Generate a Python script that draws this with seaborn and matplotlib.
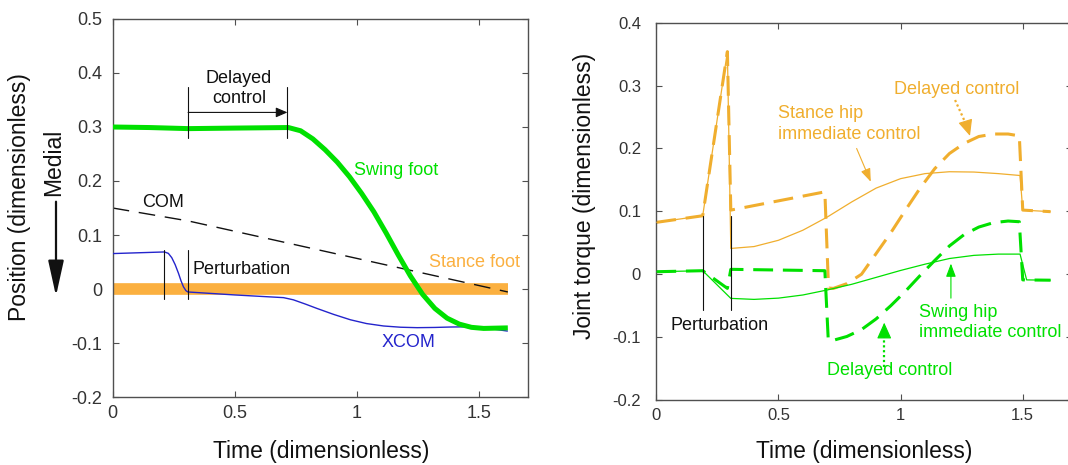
import matplotlib
matplotlib.use("Agg")
import matplotlib.pyplot as plt
import seaborn as sns
import pandas as pd

# ---------------- Left panel data ----------------
stance_foot_t = [0.0, 1.619]
stance_foot_y = [0.0, 0.0]

com_t = [0.0, 0.31, 1.619]
com_y = [0.150, 0.126, -0.0055]

xcom_t = [0.0, 0.212, 0.228, 0.242, 0.256, 0.27, 0.28, 0.29, 0.30, 0.308, 0.50, 0.70,
          0.74, 0.79, 0.837, 0.905, 0.974, 1.04, 1.11, 1.18, 1.247, 1.32, 1.384,
          1.453, 1.54, 1.619]
xcom_y = [0.0656, 0.0686, 0.066, 0.058, 0.045, 0.0285, 0.015, 0.004, -0.003,
          -0.0055, -0.011, -0.016, -0.020, -0.028, -0.036, -0.047, -0.057, -0.064,
          -0.0685, -0.0708, -0.0716, -0.0712, -0.0704, -0.070, -0.073, -0.078]

swing_foot_t = [0.0, 0.15, 0.31, 0.50, 0.72, 0.77, 0.82, 0.87, 0.92, 0.97, 1.02,
                1.07, 1.12, 1.17, 1.22, 1.27, 1.32, 1.37, 1.42, 1.47, 1.52, 1.619]
swing_foot_y = [0.300, 0.299, 0.297, 0.298, 0.299, 0.293, 0.278, 0.258, 0.235,
                0.208, 0.177, 0.143, 0.104, 0.063, 0.024, -0.010, -0.036, -0.054,
                -0.065, -0.071, -0.073, -0.072]

# ---------------- Right panel data ----------------
stance_delayed_t = [0.0, 0.19, 0.291, 0.305, 0.69, 0.705, 0.725, 0.78, 0.84, 0.90,
                    0.96, 1.02, 1.08, 1.14, 1.20, 1.26, 1.32, 1.38, 1.44, 1.486,
                    1.50, 1.614]
stance_delayed_y = [0.0825, 0.093, 0.354, 0.102, 0.131, -0.022, -0.0225, -0.015,
                    0.000, 0.033, 0.066, 0.102, 0.137, 0.168, 0.192, 0.208, 0.219,
                    0.223, 0.223, 0.220, 0.102, 0.0995]

stance_immediate_t = [0.0, 0.19, 0.291, 0.305, 0.40, 0.50, 0.60, 0.70, 0.80, 0.90,
                      1.00, 1.10, 1.20, 1.30, 1.40, 1.489, 1.50, 1.614]
stance_immediate_y = [0.0825, 0.093, 0.354, 0.041, 0.044, 0.054, 0.070, 0.091,
                      0.115, 0.137, 0.152, 0.160, 0.163, 0.1625, 0.160, 0.157,
                      0.102, 0.0995]

swing_immediate_t = [0.0, 0.19, 0.305, 0.40, 0.50, 0.60, 0.70, 0.80, 0.90, 1.00,
                     1.10, 1.20, 1.30, 1.40, 1.489, 1.516, 1.614]
swing_immediate_y = [0.004, 0.0056, -0.0384, -0.040, -0.038, -0.033, -0.025,
                     -0.016, -0.005, 0.006, 0.016, 0.025, 0.030, 0.032, 0.032,
                     -0.009, -0.0095]

swing_delayed_t = [0.0, 0.19, 0.291, 0.305, 0.69, 0.704, 0.725, 0.78, 0.84, 0.90,
                   0.96, 1.02, 1.08, 1.14, 1.20, 1.26, 1.32, 1.38, 1.44, 1.486,
                   1.50, 1.614]
swing_delayed_y = [0.004, 0.0056, -0.0225, 0.0078, 0.0056, -0.105, -0.105, -0.099,
                   -0.088, -0.071, -0.050, -0.027, -0.002, 0.022, 0.045, 0.063,
                   0.075, 0.082, 0.0846, 0.0835, -0.009, -0.0095]

x_ticks = [0, 0.5, 1, 1.5]
x_ticklabels = ["0", "0.5", "1", "1.5"]
left_y_ticks = [-0.2, -0.1, 0, 0.1, 0.2, 0.3, 0.4, 0.5]
left_y_ticklabels = ["-0.2", "-0.1", "0", "0.1", "0.2", "0.3", "0.4", "0.5"]
right_y_ticks = [-0.2, -0.1, 0, 0.1, 0.2, 0.3, 0.4]
right_y_ticklabels = ["-0.2", "-0.1", "0", "0.1", "0.2", "0.3", "0.4"]

# ---------------- Style ----------------
sns.set_style("ticks")
plt.rcParams["font.family"] = ["Liberation Sans", "DejaVu Sans"]
plt.rcParams["axes.unicode_minus"] = False

GREEN = "#00E000"
ORANGE_L = "#FBB040"
ORANGE = "#F0AE2E"
BLUE = "#2424CC"
SPINE = "#505050"
TXT = "#333333"

W, H = 1068, 465
fig = plt.figure(figsize=(W / 100, H / 100), dpi=100)
axL = fig.add_axes([112.7 / W, 1 - 397 / H, 414.9 / W, 378 / H])
axR = fig.add_axes([656.3 / W, 1 - 400 / H, 415.3 / W, 377.3 / H])


def line(ax, t, y, color, lw, dashes=None, z=2):
    df = pd.DataFrame({"t": t, "y": y})
    sns.lineplot(data=df, x="t", y="y", ax=ax, color=color, linewidth=lw,
                 estimator=None, sort=False, zorder=z)
    ln = ax.lines[-1]
    ln.set_solid_capstyle("butt")
    ln.set_solid_joinstyle("round")
    if dashes is not None:
        ln.set_dashes(dashes)
        ln.set_dash_capstyle("butt")
    return ln


# ---- Left panel ----
line(axL, stance_foot_t, stance_foot_y, ORANGE_L, 8.4, z=1)
line(axL, com_t, com_y, "#111111", 1.0, dashes=(12, 7), z=2)
line(axL, xcom_t, xcom_y, BLUE, 1.0, z=3)
line(axL, swing_foot_t, swing_foot_y, GREEN, 3.6, z=4)

for tx in (0.309, 0.716):
    axL.plot([tx, tx], [0.279, 0.374], color="#111111", lw=0.8, zorder=5)
for tx in (0.212, 0.308):
    axL.plot([tx, tx], [-0.018, 0.072], color="#111111", lw=0.8, zorder=5)
axL.annotate("", xy=(0.716, 0.327), xytext=(0.309, 0.327),
             arrowprops=dict(arrowstyle="-|>,head_length=0.7,head_width=0.3",
                             color="#111111", lw=0.8, mutation_scale=10,
                             shrinkA=0, shrinkB=0))
axL.text(0.518, 0.371, "Delayed\ncontrol", ha="center", va="center", fontsize=13,
         color="#111111", linespacing=1.25)
axL.text(0.987, 0.22, "Swing foot", ha="left", va="center", fontsize=13, color=GREEN)
axL.text(0.119, 0.161, "COM", ha="left", va="center", fontsize=13, color="#111111")
axL.text(0.328, 0.036, "Perturbation", ha="left", va="center", fontsize=13,
         color="#111111")
axL.text(1.295, 0.049, "Stance foot", ha="left", va="center", fontsize=13,
         color=ORANGE_L)
axL.text(1.101, -0.099, "XCOM", ha="left", va="center", fontsize=13, color=BLUE)

axL.set_xlim(0, 1.7)
axL.set_ylim(-0.2, 0.5)
axL.set_xticks(x_ticks)
axL.set_xticklabels(x_ticklabels)
axL.set_yticks(left_y_ticks)
axL.set_yticklabels(left_y_ticklabels)

# ---- Right panel ----
line(axR, stance_delayed_t, stance_delayed_y, ORANGE, 2.2, dashes=(6.5, 3.2), z=2)
line(axR, swing_delayed_t, swing_delayed_y, GREEN, 2.2, dashes=(6.5, 3.2), z=2)
line(axR, stance_immediate_t, stance_immediate_y, ORANGE, 0.9, z=3)
line(axR, swing_immediate_t, swing_immediate_y, GREEN, 0.9, z=3)

for tx in (0.19, 0.305):
    axR.plot([tx, tx], [-0.057, 0.093], color="#111111", lw=0.8, zorder=5)

axR.text(0.059, -0.081, "Perturbation", ha="left", va="center", fontsize=13,
         color="#111111")
axR.text(0.50, 0.239, "Stance hip\nimmediate control", ha="left", va="center",
         fontsize=13, color=ORANGE, linespacing=1.25)
axR.annotate("", xy=(0.878, 0.147), xytext=(0.82, 0.200),
             arrowprops=dict(arrowstyle="-|>,head_length=0.8,head_width=0.3",
                             color=ORANGE, lw=0.8, mutation_scale=10,
                             shrinkA=0, shrinkB=0))
axR.text(1.231, 0.2945, "Delayed control", ha="center", va="center", fontsize=13,
         color=ORANGE)
axR.plot([1.223, 1.272], [0.277, 0.235], color=ORANGE, lw=1.6, ls=(0, (1, 1.2)))
axR.annotate("", xy=(1.284, 0.220), xytext=(1.268, 0.240),
             arrowprops=dict(arrowstyle="-|>,head_length=1.0,head_width=0.45",
                             color=ORANGE, lw=0.8, mutation_scale=10,
                             shrinkA=0, shrinkB=0))

axR.text(1.077, -0.077, "Swing hip\nimmediate control", ha="left", va="center",
         fontsize=13, color=GREEN, linespacing=1.25, clip_on=False)
axR.annotate("", xy=(1.206, 0.017), xytext=(1.206, -0.038),
             arrowprops=dict(arrowstyle="-|>,head_length=0.8,head_width=0.3",
                             color=GREEN, lw=0.8, mutation_scale=10,
                             shrinkA=0, shrinkB=0))
axR.text(0.955, -0.153, "Delayed control", ha="center", va="center", fontsize=13,
         color=GREEN)
axR.plot([0.933, 0.933], [-0.147, -0.098], color=GREEN, lw=1.6, ls=(0, (1, 1.2)))
axR.annotate("", xy=(0.933, -0.077), xytext=(0.933, -0.100),
             arrowprops=dict(arrowstyle="-|>,head_length=1.0,head_width=0.45",
                             color=GREEN, lw=0.8, mutation_scale=10,
                             shrinkA=0, shrinkB=0))

axR.set_xlim(0, 1.7)
axR.set_ylim(-0.2, 0.4)
axR.set_xticks(x_ticks)
axR.set_xticklabels(x_ticklabels)
axR.set_yticks(right_y_ticks)
axR.set_yticklabels(right_y_ticklabels)

for ax, ls, ypad in ((axL, 13, 7.4), (axR, 12, 11)):
    ax.set_xlabel("")
    ax.set_ylabel("")
    for s in ax.spines.values():
        s.set_visible(True)
        s.set_color(SPINE)
        s.set_linewidth(1.0)
    ax.tick_params(direction="in", top=True, right=True, length=4, width=0.8,
                   color=SPINE, labelsize=ls, labelcolor=TXT)
    ax.tick_params(axis="y", pad=ypad)
    ax.tick_params(axis="x", pad=6)

# Axis labels
fig.text(20 / W, 1 - 196.7 / H, "Position (dimensionless)", rotation=90,
         ha="center", va="center", fontsize=16.5, color="#111111")
fig.text(53.3 / W, 1 - 162 / H, "Medial", rotation=90, ha="center", va="center",
         fontsize=16.5, color="#111111")
fig.add_artist(matplotlib.patches.FancyArrowPatch(
    (56 / W, 1 - 201.7 / H), (56 / W, 1 - 296 / H), transform=fig.transFigure,
    arrowstyle="-|>,head_length=1.45,head_width=0.32", mutation_scale=15,
    color="#111111", lw=1.6, shrinkA=0, shrinkB=0))
fig.text(321.4 / W, 1 - 451.7 / H, "Time (dimensionless)", ha="center",
         va="center", fontsize=16.5, color="#111111")
fig.text(864.5 / W, 1 - 451.7 / H, "Time (dimensionless)", ha="center",
         va="center", fontsize=16.5, color="#111111")
fig.text(584.7 / W, 1 - 195.8 / H, "Joint torque (dimensionless)", rotation=90,
         ha="center", va="center", fontsize=16.5, color="#111111")

fig.savefig("out.png", dpi=100)
